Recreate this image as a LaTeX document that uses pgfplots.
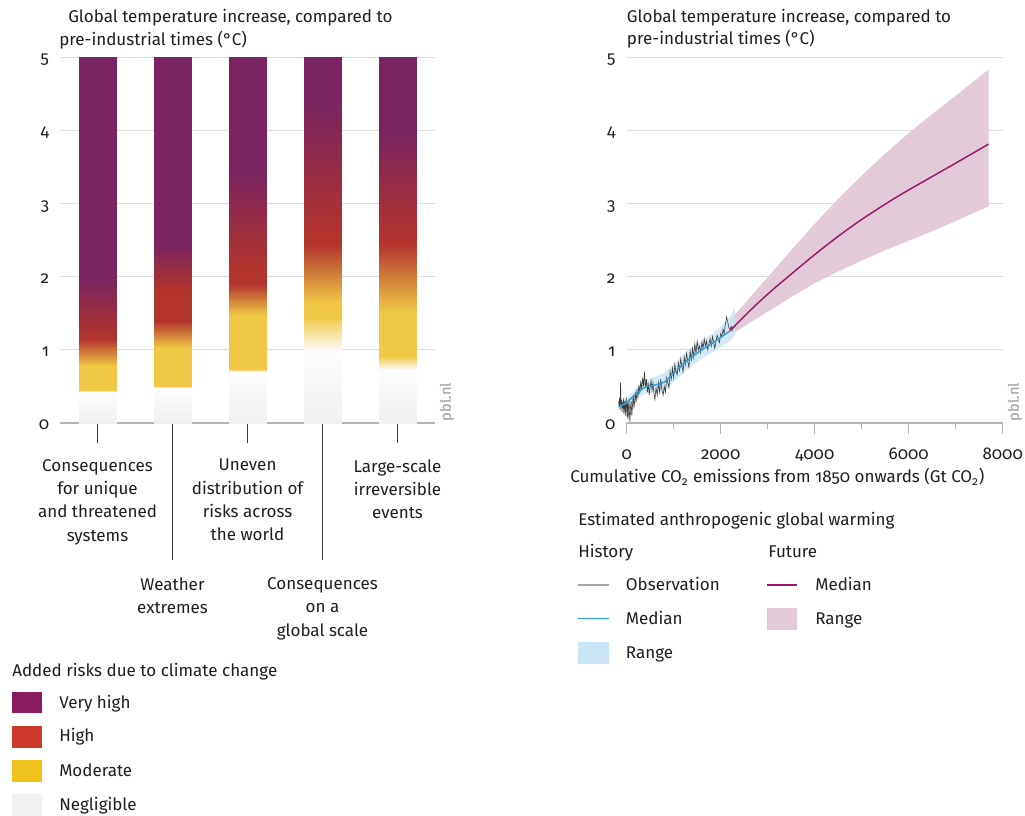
\documentclass[border=0pt]{standalone}
\usepackage{pgfplots}
\pgfplotsset{compat=1.18}
\usepackage{fontspec}
\setmainfont{Fira Sans}[Numbers=OldStyle]

\definecolor{txt}{HTML}{1E1E1E}
\definecolor{gridc}{HTML}{DCDCDC}
\definecolor{axisc}{HTML}{B4B4B4}
\definecolor{tickc}{HTML}{3C3C3C}
\definecolor{vhigh}{HTML}{8A1C5E}
\definecolor{high}{HTML}{CB3A2B}
\definecolor{moder}{HTML}{EFC31C}
\definecolor{negl}{HTML}{F2F2F2}
\definecolor{obsc}{HTML}{3A3A3A}
\definecolor{obsleg}{HTML}{A8A8A8}
\definecolor{histmed}{HTML}{2FA0CF}
\definecolor{histrng}{HTML}{CCE5F5}
\definecolor{futmed}{HTML}{9C176B}
\definecolor{futrng}{HTML}{E2CAD9}
\definecolor{pblc}{HTML}{9A9A9A}

\newcommand\fs{\fontsize{12.75}{17.5}\selectfont}

% risk level scale: 0 negligible (grey), 1 negligible (white), 2 moderate, 3 high, 4 very high
\pgfplotsset{colormap={embers}{rgb255=(240,240,240) rgb255=(253,253,253) rgb255=(240,200,70) rgb255=(179,52,45) rgb255=(121,36,96)}}

\tikzset{lbl/.style={anchor=base west, inner sep=0pt, font=\fs, text=txt}}

\begin{document}
\begin{tikzpicture}
\begin{scope}[x=0.75pt, y=-0.75pt]
\path[use as bounding box] (0,0) rectangle (1025,816);

% titles
\node[lbl] at (68,23) {Global temperature increase, compared to};
\node[lbl] at (59,46) {pre-industrial times (°C)};
\node[lbl] at (626.7,23) {Global temperature increase, compared to};
\node[lbl] at (626.7,45) {pre-industrial times (°C)};

% risk legend
\node[lbl] at (12,676) {Added risks due to climate change};
\fill[vhigh] (12,691.7) rectangle (41.7,713.3);
\node[lbl] at (59,708) {Very high};
\fill[high] (12,726) rectangle (41.7,748);
\node[lbl] at (59,741.7) {High};
\fill[moder] (12,760) rectangle (41.7,782);
\node[lbl] at (59,776.7) {Moderate};
\fill[negl] (12,794) rectangle (41.7,816);
\node[lbl] at (59,810) {Negligible};

% warming legend
\node[lbl] at (578,526) {Estimated anthropogenic global warming};
\node[lbl] at (578,557) {History};
\node[lbl] at (768,557) {Future};
\draw[obsleg, line width=0.9pt] (578,585) -- (609,585);
\node[lbl] at (625.7,590.7) {Observation};
\draw[histmed, line width=1.2pt] (578,618.3) -- (609,618.3);
\node[lbl] at (625.7,624) {Median};
\fill[histrng] (578,641.7) rectangle (609,664);
\node[lbl] at (625.7,658) {Range};
\draw[futmed, line width=1.2pt] (767,585) -- (797,585);
\node[lbl] at (815,590.7) {Median};
\fill[futrng] (767,608.3) rectangle (797,630);
\node[lbl] at (815,624) {Range};

% source marks
\node[rotate=90, inner sep=0pt, font=\fontsize{11}{13}\selectfont, text=pblc] at (447,402) {pbl.nl};
\node[rotate=90, inner sep=0pt, font=\fontsize{11}{13}\selectfont, text=pblc] at (1015,402) {pbl.nl};
\end{scope}

% ---------- risk levels per reason for concern ----------
\begin{axis}[
  at={(45pt,-317.25pt)}, anchor=south west,
  scale only axis, width=281.25pt, height=274.5pt,
  xmin=0.5, xmax=5.5, ymin=0, ymax=5,
  axis x line*=bottom, axis y line*=left,
  x axis line style={axisc, line width=0.8pt, -},
  y axis line style={draw=none},
  ytick={0,1,2,3,4,5},
  ytick style={draw=none},
  ymajorgrids, grid style={gridc, line width=0.7pt},
  tick align=outside,
  major tick length=15pt,
  xtick={1,3,5},
  xticklabels={{Consequences\\for unique\\and threatened\\systems},
               {Uneven\\distribution of\\risks across\\the world},
               {Large-scale\\irreversible\\events}},
  extra x ticks={2,4},
  extra x tick labels={{Weather\\extremes},{Consequences\\on a\\global scale}},
  xtick style={tickc, line width=0.7pt},
  extra x tick style={major tick length=102.75pt,
                      xticklabel style={yshift=-1pt}},
  xticklabel style={align=center, anchor=north, inner sep=0pt, yshift=-12pt, font=\fs, text=txt},
  yticklabel style={anchor=base east, inner sep=0pt, xshift=7pt, yshift=-5pt, font=\fs, text=txt},
  /pgf/number format/assume math mode=true,
  colormap name=embers, point meta min=0, point meta max=4,
]
\addplot[surf, shader=interp, mesh/cols=2, point meta=explicit] table[meta=c] {
x y c
0.748 0 0
1.252 0 0
0.748 0.43 1
1.252 0.43 1
0.748 0.45 2
1.252 0.45 2
0.748 0.78 2
1.252 0.78 2
0.748 1.15 3
1.252 1.15 3
0.748 2.0 4
1.252 2.0 4
0.748 5 4
1.252 5 4
};
\addplot[surf, shader=interp, mesh/cols=2, point meta=explicit] table[meta=c] {
x y c
1.748 0 0
2.252 0 0
1.748 0.48 1
2.252 0.48 1
1.748 0.50 2
2.252 0.50 2
1.748 1.02 2
2.252 1.02 2
1.748 1.40 3
2.252 1.40 3
1.748 1.82 3
2.252 1.82 3
1.748 2.45 4
2.252 2.45 4
1.748 5 4
2.252 5 4
};
\addplot[surf, shader=interp, mesh/cols=2, point meta=explicit] table[meta=c] {
x y c
2.748 0 0
3.252 0 0
2.748 0.70 1
3.252 0.70 1
2.748 0.74 2
3.252 0.74 2
2.748 1.48 2
3.252 1.48 2
2.748 1.90 3
3.252 1.90 3
2.748 2.10 3
3.252 2.10 3
2.748 3.45 4
3.252 3.45 4
2.748 5 4
3.252 5 4
};
\addplot[surf, shader=interp, mesh/cols=2, point meta=explicit] table[meta=c] {
x y c
3.748 0 0
4.252 0 0
3.748 0.98 1
4.252 0.98 1
3.748 1.45 2
4.252 1.45 2
3.748 1.62 2
4.252 1.62 2
3.748 2.45 3
4.252 2.45 3
3.748 2.55 3
4.252 2.55 3
3.748 4.40 4
4.252 4.40 4
3.748 5 4
4.252 5 4
};
\addplot[surf, shader=interp, mesh/cols=2, point meta=explicit] table[meta=c] {
x y c
4.748 0 0
5.252 0 0
4.748 0.72 1
5.252 0.72 1
4.748 0.92 2
5.252 0.92 2
4.748 1.52 2
5.252 1.52 2
4.748 2.45 3
5.252 2.45 3
4.748 2.52 3
5.252 2.52 3
4.748 4.00 4
5.252 4.00 4
4.748 5 4
5.252 5 4
};
\end{axis}

% ---------- warming versus cumulative emissions ----------
\begin{axis}[
  at={(470pt,-317.25pt)}, anchor=south west,
  scale only axis, width=282pt, height=274.5pt,
  xmin=0, xmax=8000, ymin=0, ymax=5,
  clip=false,
  axis x line*=bottom, axis y line*=left,
  x axis line style={axisc, line width=0.8pt, -},
  y axis line style={draw=none},
  ytick={0,1,2,3,4,5},
  ytick style={draw=none},
  ymajorgrids, grid style={gridc, line width=0.7pt},
  tick align=outside,
  major tick length=8.25pt, minor tick length=4.5pt,
  xtick={0,2000,4000,6000,8000},
  minor xtick={1000,3000,5000,7000},
  xtick style={axisc, line width=0.7pt},
  scaled x ticks=false,
  xticklabel style={anchor=base, inner sep=0pt, yshift=-18.75pt, font=\fs, text=txt},
  yticklabel style={anchor=base east, inner sep=0pt, xshift=0pt, yshift=-5pt, font=\fs, text=txt},
  /pgf/number format/assume math mode=true,
  /pgf/number format/1000 sep={},
  xlabel={Cumulative CO\textsubscript{2} emissions from 1850 onwards (Gt CO\textsubscript{2})},
  xlabel style={at={(rel axis cs:0,0)}, anchor=base west, inner sep=0pt, xshift=-42.5pt, yshift=-45pt, font=\fs, text=txt},
]
% future range (upper edge, then lower edge back)
\addplot[fill=futrng, draw=none] coordinates {
(2200,1.40) (2600,1.70) (3000,1.99) (3500,2.36) (4000,2.72) (4500,3.06) (5000,3.38)
(5500,3.68) (6000,3.96) (6500,4.22) (7000,4.47) (7700,4.83)
(7700,2.96) (7000,2.76) (6500,2.62) (6000,2.49) (5500,2.36) (5000,2.22) (4500,2.07)
(4000,1.91) (3500,1.72) (3000,1.52) (2600,1.36) (2200,1.20)
};
% historical range
\addplot[fill=histrng, fill opacity=0.85, draw=none] coordinates {
(-170,0.27) (0,0.34) (200,0.47) (400,0.58) (600,0.63) (800,0.68) (1000,0.80)
(1200,0.93) (1400,1.04) (1600,1.13) (1800,1.21) (2000,1.32) (2200,1.45) (2300,1.57)
(2300,1.20) (2200,1.12) (2000,1.04) (1800,0.96) (1600,0.88) (1400,0.79) (1200,0.68)
(1000,0.56) (800,0.44) (600,0.42) (400,0.40) (200,0.33) (0,0.22) (-170,0.17)
};
% observations
\addplot[obsc, line width=0.45pt] coordinates {
(-170,0.30) (-160,0.22) (-150,0.35) (-140,0.18) (-130,0.55) (-120,0.25) (-110,0.32)
(-100,0.15) (-90,0.28) (-80,0.20) (-70,0.34) (-60,0.12) (-50,0.26) (-40,0.30)
(-30,0.10) (-20,0.22) (-10,0.35) (0,0.18) (10,0.08) (20,0.28) (30,0.05) (40,0.22)
(50,0.32) (60,0.12) (70,0.02) (80,0.20) (95,0.30) (110,0.10) (125,0.25) (140,0.38)
(155,0.20) (170,0.30) (185,0.42) (200,0.28) (220,0.45) (240,0.35) (260,0.52)
(280,0.40) (300,0.58) (320,0.45) (340,0.62) (360,0.50) (380,0.70) (400,0.48)
(420,0.60) (440,0.42) (460,0.55) (480,0.38) (500,0.50) (520,0.58) (540,0.45)
(560,0.55) (580,0.40) (600,0.32) (625,0.48) (650,0.38) (675,0.55) (700,0.42)
(725,0.60) (750,0.45) (775,0.38) (800,0.50) (825,0.42) (850,0.62) (875,0.55)
(900,0.48) (925,0.70) (950,0.60) (975,0.75) (1000,0.62) (1025,0.80) (1050,0.70)
(1075,0.66) (1100,0.82) (1125,0.72) (1150,0.88) (1175,0.78) (1200,0.70) (1225,0.90)
(1250,0.80) (1275,0.95) (1300,0.84) (1325,0.76) (1350,0.98) (1375,0.86) (1400,1.02)
(1425,0.90) (1450,1.08) (1475,0.95) (1500,1.12) (1525,1.00) (1550,1.05) (1575,0.96)
(1600,1.10) (1625,1.02) (1650,1.15) (1675,1.05) (1700,1.12) (1725,1.00) (1750,1.08)
(1775,1.15) (1800,1.05) (1825,1.18) (1850,1.10) (1875,1.02) (1900,1.12) (1925,1.20)
(1950,1.15) (1975,1.10) (2000,1.22) (2025,1.18) (2050,1.28) (2075,1.22) (2100,1.35)
(2125,1.45) (2150,1.38) (2175,1.30) (2200,1.28) (2225,1.32) (2250,1.26)
};
% historical median
\addplot[histmed, line width=1.1pt, smooth] coordinates {
(-170,0.22) (0,0.28) (200,0.40) (400,0.49) (600,0.52) (800,0.56) (1000,0.68)
(1200,0.80) (1400,0.91) (1600,1.00) (1800,1.08) (2000,1.17) (2200,1.26)
};
% future median
\addplot[futmed, line width=1.1pt, smooth] coordinates {
(2200,1.26) (2600,1.52) (3000,1.76) (3400,1.98) (4000,2.30) (4500,2.55)
(5000,2.78) (5700,3.07) (6400,3.33) (7000,3.55) (7700,3.81)
};
\end{axis}
\end{tikzpicture}
\end{document}
